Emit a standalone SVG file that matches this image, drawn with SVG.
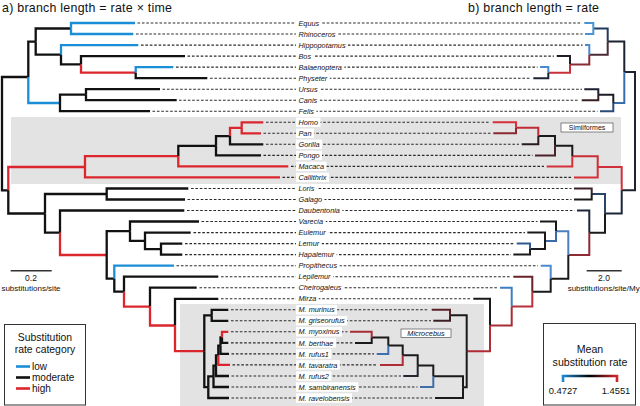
<svg xmlns="http://www.w3.org/2000/svg" width="640" height="406" viewBox="0 0 640 406">
<style>
.t{font-family:"Liberation Sans",Arial,sans-serif;fill:#111}
.lb{font-family:"Liberation Sans",Arial,sans-serif;font-style:italic;font-size:7.3px;fill:#111}
.bg{fill:#fff}
.d{stroke:#2a2a2a;stroke-width:1.1;stroke-dasharray:2.6 1.8;fill:none}
.a{fill:none;stroke-width:2.3;stroke-linecap:butt;stroke-linejoin:miter}
.b{fill:none;stroke-width:2;stroke-linecap:butt;stroke-linejoin:miter}
.k{stroke:#111}.u{stroke:#1b8ed8}.r{stroke:#dc262d}
.gray{fill:#e3e3e4}
</style>
<defs>
<linearGradient id="grad" gradientUnits="userSpaceOnUse" x1="562" y1="0" x2="618" y2="0">
<stop offset="0" stop-color="#1b8ed8"/><stop offset="0.5" stop-color="#000"/><stop offset="1" stop-color="#dc262d"/>
</linearGradient>
</defs>
<rect width="640" height="406" fill="#fff"/>
<g id="shading">
<rect class="gray" x="11" y="117" width="610" height="67"/>
<rect class="gray" x="180" y="304" width="304" height="102"/>
</g>
<g id="titles">
<text class="t" x="2" y="11.5" font-size="12.4" textLength="170" lengthAdjust="spacing">a)  branch length = rate × time</text>
<text class="t" x="468" y="11.5" font-size="12.4" textLength="131" lengthAdjust="spacing">b)  branch length = rate</text>
</g>
<g id="dashes">
<line class="d" x1="137.5" y1="23" x2="582" y2="23"/>
<line class="d" x1="136" y1="34" x2="582.5" y2="34"/>
<line class="d" x1="141" y1="45.1" x2="582.5" y2="45.1"/>
<line class="d" x1="187.5" y1="56.1" x2="554" y2="56.1"/>
<line class="d" x1="176" y1="67.1" x2="537.5" y2="67.1"/>
<line class="d" x1="210" y1="78.2" x2="531" y2="78.2"/>
<line class="d" x1="162.5" y1="89.2" x2="582" y2="89.2"/>
<line class="d" x1="179" y1="100.2" x2="579" y2="100.2"/>
<line class="d" x1="152.5" y1="111.2" x2="597.5" y2="111.2"/>
<line class="d" x1="266" y1="122.3" x2="490" y2="122.3"/>
<line class="d" x1="263.5" y1="133.3" x2="491" y2="133.3"/>
<line class="d" x1="266" y1="144.3" x2="519" y2="144.3"/>
<line class="d" x1="263.5" y1="155.4" x2="532.5" y2="155.4"/>
<line class="d" x1="291" y1="166.4" x2="544" y2="166.4"/>
<line class="d" x1="282.5" y1="177.4" x2="571.5" y2="177.4"/>
<line class="d" x1="191" y1="188.5" x2="571.5" y2="188.5"/>
<line class="d" x1="187.5" y1="199.5" x2="571.5" y2="199.5"/>
<line class="d" x1="187" y1="210.5" x2="574.5" y2="210.5"/>
<line class="d" x1="201.5" y1="221.5" x2="537.5" y2="221.5"/>
<line class="d" x1="193.5" y1="232.6" x2="525" y2="232.6"/>
<line class="d" x1="185" y1="243.6" x2="514" y2="243.6"/>
<line class="d" x1="185" y1="254.6" x2="511" y2="254.6"/>
<line class="d" x1="176.5" y1="265.7" x2="538" y2="265.7"/>
<line class="d" x1="221" y1="276.7" x2="511" y2="276.7"/>
<line class="d" x1="199.5" y1="287.7" x2="497.5" y2="287.7"/>
<line class="d" x1="221" y1="298.8" x2="471" y2="298.8"/>
<line class="d" x1="231" y1="309.8" x2="429" y2="309.8"/>
<line class="d" x1="231" y1="320.8" x2="431" y2="320.8"/>
<line class="d" x1="231" y1="331.8" x2="347.5" y2="331.8"/>
<line class="d" x1="231" y1="342.9" x2="352.5" y2="342.9"/>
<line class="d" x1="231.5" y1="353.9" x2="374" y2="353.9"/>
<line class="d" x1="232.5" y1="364.9" x2="377.5" y2="364.9"/>
<line class="d" x1="231.5" y1="376" x2="401" y2="376"/>
<line class="d" x1="231.5" y1="387" x2="417.5" y2="387"/>
<line class="d" x1="231.5" y1="398" x2="432.5" y2="398"/>
</g>
<g id="connectors-a">
<path class="a k" d="M2 133V77H28.3"/>
<path class="a k" d="M28.3 77V41.6H35.7"/>
<path class="a u" d="M28.3 77V103H60"/>
<path class="a k" d="M35.7 41.6V28.5H71"/>
<path class="a k" d="M35.7 41.6V54.7H61"/>
<path class="a u" d="M71 28.5V23H135"/>
<path class="a u" d="M71 28.5V34H133.3"/>
<path class="a u" d="M61 54.7V45.1H138.3"/>
<path class="a k" d="M61 54.7V64.4H81"/>
<path class="a k" d="M81 64.4V56.1H185"/>
<path class="a r" d="M81 64.4V72.65H135.7"/>
<path class="a u" d="M135.7 72.65V67.1H173.3"/>
<path class="a k" d="M135.7 72.65V78.2H207.3"/>
<path class="a k" d="M60 103V94.7H86"/>
<path class="a k" d="M60 103V111.2H150"/>
<path class="a k" d="M86 94.7V89.2H160"/>
<path class="a k" d="M86 94.7V100.2H176.7"/>
<path class="a k" d="M2 133V190.3H8.3"/>
<path class="a r" d="M8.3 190.3V167H85"/>
<path class="a k" d="M8.3 190.3V213.5H45"/>
<path class="a r" d="M85 167V156.2H178.3"/>
<path class="a r" d="M85 167V177.4H280"/>
<path class="a k" d="M178.3 156.2V145.8H216"/>
<path class="a r" d="M178.3 156.2V166.4H288.3"/>
<path class="a k" d="M216 145.8V136.1H230"/>
<path class="a k" d="M216 145.8V155.4H261"/>
<path class="a r" d="M230 136.1V127.8H241.7"/>
<path class="a k" d="M230 136.1V144.3H263.3"/>
<path class="a r" d="M241.7 127.8V122.3H263.3"/>
<path class="a r" d="M241.7 127.8V133.3H261"/>
<path class="a k" d="M45 213.5V194H106.7"/>
<path class="a k" d="M45 213.5V232.7H60"/>
<path class="a k" d="M106.7 194V188.5H188.3"/>
<path class="a k" d="M106.7 194V199.5H185"/>
<path class="a k" d="M60 232.7V210.5H184.3"/>
<path class="a r" d="M60 232.7V255H106.7"/>
<path class="a k" d="M106.7 255V231.2H130"/>
<path class="a k" d="M106.7 255V278.7H114.3"/>
<path class="a k" d="M130 231.2V221.5H199"/>
<path class="a k" d="M130 231.2V240.9H145"/>
<path class="a k" d="M145 240.9V232.6H190.7"/>
<path class="a k" d="M145 240.9V249.1H161"/>
<path class="a k" d="M161 249.1V243.6H182.3"/>
<path class="a k" d="M161 249.1V254.6H182.3"/>
<path class="a u" d="M114.3 278.7V265.7H174"/>
<path class="a k" d="M114.3 278.7V291.7H124"/>
<path class="a k" d="M124 291.7V276.7H218.3"/>
<path class="a r" d="M124 291.7V306.6H150"/>
<path class="a k" d="M150 306.6V287.7H196.7"/>
<path class="a r" d="M150 306.6V325.5H175"/>
<path class="a k" d="M175 325.5V298.8H218.3"/>
<path class="a r" d="M175 325.5V351.2H204.3"/>
<path class="a k" d="M204.3 351.2V315.3H211.7"/>
<path class="a k" d="M204.3 351.2V387.2H208.3"/>
<path class="a k" d="M211.7 315.3V309.8H228.3"/>
<path class="a k" d="M211.7 315.3V320.8H228.3"/>
<path class="a k" d="M208.3 387.2V398H229"/>
<path class="a k" d="M208.3 387.2V376.3H213.5"/>
<path class="a k" d="M213.5 376.3V387H229"/>
<path class="a k" d="M213.5 376.3V365.6H216"/>
<path class="a k" d="M216 365.6V376H229"/>
<path class="a k" d="M216 365.6V355.3H218.3"/>
<path class="a r" d="M218.3 355.3V364.9H230"/>
<path class="a k" d="M218.3 355.3V345.6H220.5"/>
<path class="a k" d="M220.5 345.6V353.9H229"/>
<path class="a k" d="M220.5 345.6V337.4H222"/>
<path class="a r" d="M222 337.4V331.8H228.3"/>
<path class="a k" d="M222 337.4V342.9H228.3"/>
</g>
<g id="connectors-b">
<path class="b" stroke="#1c2230" d="M635 131V72H624.3"/>
<path class="b" stroke="#1c2230" d="M624.3 72V41.6H607.7"/>
<path class="b" stroke="#3a6ea8" d="M624.3 72V103H613.3"/>
<path class="b" stroke="#223a5c" d="M607.7 41.6V28.5H593.3"/>
<path class="b" stroke="#4a2a33" d="M607.7 41.6V54.7H589.3"/>
<path class="b" stroke="#4b94d4" d="M593.3 28.5V23H584.3"/>
<path class="b" stroke="#4b94d4" d="M593.3 28.5V34H585"/>
<path class="b" stroke="#4a8ad0" d="M589.3 54.7V45.1H585"/>
<path class="b" stroke="#8a2c35" d="M589.3 54.7V64.4H570"/>
<path class="b" stroke="#1e1e28" d="M570 64.4V56.1H556.7"/>
<path class="b" stroke="#c8303a" d="M570 64.4V72.65H548.3"/>
<path class="b" stroke="#4a8ad0" d="M548.3 72.65V67.1H540"/>
<path class="b" stroke="#1e2433" d="M548.3 72.65V78.2H533.3"/>
<path class="b" stroke="#1c1c24" d="M613.3 103V94.7H598.3"/>
<path class="b" stroke="#2a4a78" d="M613.3 103V111.2H600"/>
<path class="b" stroke="#1c2030" d="M598.3 94.7V89.2H584.3"/>
<path class="b" stroke="#3a1e22" d="M598.3 94.7V100.2H581.7"/>
<path class="b" stroke="#1c2230" d="M635 131V190.3H621.7"/>
<path class="b" stroke="#d0303a" d="M621.7 190.3V167H597.7"/>
<path class="b" stroke="#1c2638" d="M621.7 190.3V213.5H605"/>
<path class="b" stroke="#cc2e36" d="M597.7 167V156.2H572.3"/>
<path class="b" stroke="#d63038" d="M597.7 167V177.4H574"/>
<path class="b" stroke="#1a1a1a" d="M572.3 156.2V145.8H555"/>
<path class="b" stroke="#d63038" d="M572.3 156.2V166.4H546.7"/>
<path class="b" stroke="#1a1a1a" d="M555 145.8V136.1H538.3"/>
<path class="b" stroke="#4a2228" d="M555 145.8V155.4H535"/>
<path class="b" stroke="#c02c34" d="M538.3 136.1V127.8H516"/>
<path class="b" stroke="#2a1c1e" d="M538.3 136.1V144.3H521.7"/>
<path class="b" stroke="#d63038" d="M516 127.8V122.3H492.7"/>
<path class="b" stroke="#8a2a30" d="M516 127.8V133.3H493.3"/>
<path class="b" stroke="#2a4468" d="M605 213.5V194H591.7"/>
<path class="b" stroke="#1a1a1a" d="M605 213.5V232.7H589.3"/>
<path class="b" stroke="#3a2228" d="M591.7 194V188.5H574"/>
<path class="b" stroke="#1a1a1a" d="M591.7 194V199.5H574"/>
<path class="b" stroke="#1e2638" d="M589.3 232.7V210.5H577"/>
<path class="b" stroke="#8c2b33" d="M589.3 232.7V255H568.3"/>
<path class="b" stroke="#4a80c0" d="M568.3 255V231.2H556"/>
<path class="b" stroke="#1a1a1a" d="M568.3 255V278.7H550.7"/>
<path class="b" stroke="#1a1a1a" d="M556 231.2V221.5H540"/>
<path class="b" stroke="#3a6aa8" d="M556 231.2V240.9H545"/>
<path class="b" stroke="#1a1a1a" d="M545 240.9V232.6H527.3"/>
<path class="b" stroke="#1a1a1a" d="M545 240.9V249.1H530"/>
<path class="b" stroke="#2f5a90" d="M530 249.1V243.6H516.7"/>
<path class="b" stroke="#1a1a1a" d="M530 249.1V254.6H513.3"/>
<path class="b" stroke="#4a8ad0" d="M550.7 278.7V265.7H540.7"/>
<path class="b" stroke="#1a1a1a" d="M550.7 278.7V291.7H532.3"/>
<path class="b" stroke="#6a2228" d="M532.3 291.7V276.7H513.3"/>
<path class="b" stroke="#b8303a" d="M532.3 291.7V306.6H511.7"/>
<path class="b" stroke="#3f7fc0" d="M511.7 306.6V287.7H500"/>
<path class="b" stroke="#a82c34" d="M511.7 306.6V325.5H490"/>
<path class="b" stroke="#1a1a1a" d="M490 325.5V298.8H473.3"/>
<path class="b" stroke="#b02c34" d="M490 325.5V351.2H466.7"/>
<path class="b" stroke="#1a1a1a" d="M466.7 351.2V315.3H450"/>
<path class="b" stroke="#1a1a1a" d="M466.7 351.2V387.2H463"/>
<path class="b" stroke="#5a2228" d="M450 315.3V309.8H431.7"/>
<path class="b" stroke="#3a2024" d="M450 315.3V320.8H433.3"/>
<path class="b" stroke="#1a1a1a" d="M463 387.2V398H435"/>
<path class="b" stroke="#1a1a1a" d="M463 387.2V376.3H433.3"/>
<path class="b" stroke="#3f6fa8" d="M433.3 376.3V387H420"/>
<path class="b" stroke="#1a1a1a" d="M433.3 376.3V365.6H417.7"/>
<path class="b" stroke="#22262e" d="M417.7 365.6V376H403.3"/>
<path class="b" stroke="#1a1a1a" d="M417.7 365.6V355.3H402.7"/>
<path class="b" stroke="#b02c34" d="M402.7 355.3V364.9H380"/>
<path class="b" stroke="#1a1a1a" d="M402.7 355.3V345.6H388.3"/>
<path class="b" stroke="#3f6fb0" d="M388.3 345.6V353.9H376.7"/>
<path class="b" stroke="#1a1a1a" d="M388.3 345.6V337.4H371.7"/>
<path class="b" stroke="#a82c34" d="M371.7 337.4V331.8H350"/>
<path class="b" stroke="#1a1a1a" d="M371.7 337.4V342.9H355"/>
</g>
<g id="taxa">
<g id="t-equus"><rect class="bg" x="296" y="18.3" width="25.7" height="9.4"/><text class="lb" x="298.5" y="25.6">Equus</text></g>
<g id="t-rhinoceros"><rect class="bg" x="296" y="29.3" width="41.9" height="9.4"/><text class="lb" x="298.5" y="36.6">Rhinoceros</text></g>
<g id="t-hippopotamus"><rect class="bg" x="296" y="40.4" width="51.7" height="9.4"/><text class="lb" x="298.5" y="47.7">Hippopotamus</text></g>
<g id="t-bos"><rect class="bg" x="296" y="51.4" width="17.6" height="9.4"/><text class="lb" x="298.5" y="58.7">Bos</text></g>
<g id="t-balaenoptera"><rect class="bg" x="296" y="62.4" width="48.4" height="9.4"/><text class="lb" x="298.5" y="69.7">Balaenoptera</text></g>
<g id="t-physeter"><rect class="bg" x="296" y="73.5" width="33.8" height="9.4"/><text class="lb" x="298.5" y="80.8">Physeter</text></g>
<g id="t-ursus"><rect class="bg" x="296" y="84.5" width="24.1" height="9.4"/><text class="lb" x="298.5" y="91.8">Ursus</text></g>
<g id="t-canis"><rect class="bg" x="296" y="95.5" width="23.7" height="9.4"/><text class="lb" x="298.5" y="102.8">Canis</text></g>
<g id="t-felis"><rect class="bg" x="296" y="106.5" width="20.4" height="9.4"/><text class="lb" x="298.5" y="113.8">Felis</text></g>
<g id="t-homo"><rect class="bg" x="296" y="117.6" width="24.5" height="9.4"/><text class="lb" x="298.5" y="124.9">Homo</text></g>
<g id="t-pan"><rect class="bg" x="296" y="128.6" width="18" height="9.4"/><text class="lb" x="298.5" y="135.9">Pan</text></g>
<g id="t-gorilla"><rect class="bg" x="296" y="139.6" width="26.1" height="9.4"/><text class="lb" x="298.5" y="146.9">Gorilla</text></g>
<g id="t-pongo"><rect class="bg" x="296" y="150.7" width="26.1" height="9.4"/><text class="lb" x="298.5" y="158">Pongo</text></g>
<g id="t-macaca"><rect class="bg" x="296" y="161.7" width="30.6" height="9.4"/><text class="lb" x="298.5" y="169">Macaca</text></g>
<g id="t-callithrix"><rect class="bg" x="296" y="172.7" width="33" height="9.4"/><text class="lb" x="298.5" y="180">Callithrix</text></g>
<g id="t-loris"><rect class="bg" x="296" y="183.8" width="20.8" height="9.4"/><text class="lb" x="298.5" y="191.1">Loris</text></g>
<g id="t-galago"><rect class="bg" x="296" y="194.8" width="28.5" height="9.4"/><text class="lb" x="298.5" y="202.1">Galago</text></g>
<g id="t-daubentonia"><rect class="bg" x="296" y="205.8" width="46.4" height="9.4"/><text class="lb" x="298.5" y="213.1">Daubentonia</text></g>
<g id="t-varecia"><rect class="bg" x="296" y="216.8" width="29.7" height="9.4"/><text class="lb" x="298.5" y="224.1">Varecia</text></g>
<g id="t-eulemur"><rect class="bg" x="296" y="227.9" width="32.2" height="9.4"/><text class="lb" x="298.5" y="235.2">Eulemur</text></g>
<g id="t-lemur"><rect class="bg" x="296" y="238.9" width="25.7" height="9.4"/><text class="lb" x="298.5" y="246.2">Lemur</text></g>
<g id="t-hapalemur"><rect class="bg" x="296" y="249.9" width="40.7" height="9.4"/><text class="lb" x="298.5" y="257.2">Hapalemur</text></g>
<g id="t-propithecus"><rect class="bg" x="296" y="261" width="43.5" height="9.4"/><text class="lb" x="298.5" y="268.3">Propithecus</text></g>
<g id="t-lepilemur"><rect class="bg" x="296" y="272" width="37" height="9.4"/><text class="lb" x="298.5" y="279.3">Lepilemur</text></g>
<g id="t-cheirogaleus"><rect class="bg" x="296" y="283" width="48" height="9.4"/><text class="lb" x="298.5" y="290.3">Cheirogaleus</text></g>
<g id="t-mirza"><rect class="bg" x="296" y="294.1" width="22.8" height="9.4"/><text class="lb" x="298.5" y="301.4">Mirza</text></g>
<g id="t-murinus"><rect class="bg" x="296" y="305.1" width="41.1" height="9.4"/><text class="lb" x="298.5" y="312.4">M. murinus</text></g>
<g id="t-griseorufus"><rect class="bg" x="296" y="316.1" width="51.2" height="9.4"/><text class="lb" x="298.5" y="323.4">M. griseorufus</text></g>
<g id="t-myoxinus"><rect class="bg" x="296" y="327.1" width="46" height="9.4"/><text class="lb" x="298.5" y="334.4">M. myoxinus</text></g>
<g id="t-berthae"><rect class="bg" x="296" y="338.2" width="39.9" height="9.4"/><text class="lb" x="298.5" y="345.5">M. berthae</text></g>
<g id="t-rufus1"><rect class="bg" x="296" y="349.2" width="35.4" height="9.4"/><text class="lb" x="298.5" y="356.5">M. rufus1</text></g>
<g id="t-tavaratra"><rect class="bg" x="296" y="360.2" width="43.9" height="9.4"/><text class="lb" x="298.5" y="367.5">M. tavaratra</text></g>
<g id="t-rufus2"><rect class="bg" x="296" y="371.3" width="35.4" height="9.4"/><text class="lb" x="298.5" y="378.6">M. rufus2</text></g>
<g id="t-sambiranensis"><rect class="bg" x="296" y="382.3" width="62.2" height="9.4"/><text class="lb" x="298.5" y="389.6">M. sambiranensis</text></g>
<g id="t-ravelobensis"><rect class="bg" x="296" y="393.3" width="56.1" height="9.4"/><text class="lb" x="298.5" y="400.6">M. ravelobensis</text></g>
</g>
<g id="clade-labels">
<g id="simiiformes"><rect x="561" y="123" width="52" height="9" fill="#fff" stroke="#555" stroke-width="0.7"/><text class="t" x="587" y="130.2" font-size="7" text-anchor="middle">Simiiformes</text></g>
<g id="microcebus"><rect x="401" y="329" width="50" height="8.5" fill="#fff" stroke="#555" stroke-width="0.7"/><text class="lb" x="426" y="336" font-size="7" text-anchor="middle">Microcebus</text></g>
</g>
<g id="scale-a">
<line x1="10.7" y1="270.7" x2="51.7" y2="270.7" stroke="#333" stroke-width="1.5"/>
<text class="t" x="31" y="281" font-size="8.5" text-anchor="middle">0.2</text>
<text class="t" x="31" y="290.5" font-size="8" text-anchor="middle">substitutions/site</text>
</g>
<g id="scale-b">
<line x1="586.7" y1="270.7" x2="621.7" y2="270.7" stroke="#333" stroke-width="1.5"/>
<text class="t" x="604" y="281" font-size="8.5" text-anchor="middle">2.0</text>
<text class="t" x="603.7" y="290.5" font-size="8" text-anchor="middle">substitutions/site/My</text>
</g>
<g id="legend-a">
<rect x="4.5" y="324.5" width="81" height="80.5" fill="#fff" stroke="#333" stroke-width="1"/>
<text class="t" x="45" y="340.5" font-size="10.4" text-anchor="middle">Substitution</text>
<text class="t" x="45" y="352.5" font-size="10.4" text-anchor="middle">rate category</text>
<rect x="16" y="365.2" width="14" height="2.6" fill="#1b8ed8"/>
<rect x="16" y="376.2" width="14" height="2.6" fill="#111"/>
<rect x="16" y="387.2" width="14" height="2.6" fill="#dc262d"/>
<text class="t" x="32" y="369.8" font-size="10">low</text>
<text class="t" x="32" y="380.8" font-size="10">moderate</text>
<text class="t" x="32" y="391.8" font-size="10">high</text>
</g>
<g id="legend-b">
<rect x="543.5" y="323.5" width="92" height="81.5" fill="#fff" stroke="#333" stroke-width="1"/>
<text class="t" x="590" y="353" font-size="10.6" text-anchor="middle">Mean</text>
<text class="t" x="590" y="365.5" font-size="10.6" text-anchor="middle">substitution rate</text>
<path d="M563 382V376H617V382" fill="none" stroke="url(#grad)" stroke-width="2.6"/>
<text class="t" x="563" y="393.5" font-size="9.4" text-anchor="middle">0.4727</text>
<text class="t" x="616" y="393.5" font-size="9.4" text-anchor="middle">1.4551</text>
</g>
</svg>
